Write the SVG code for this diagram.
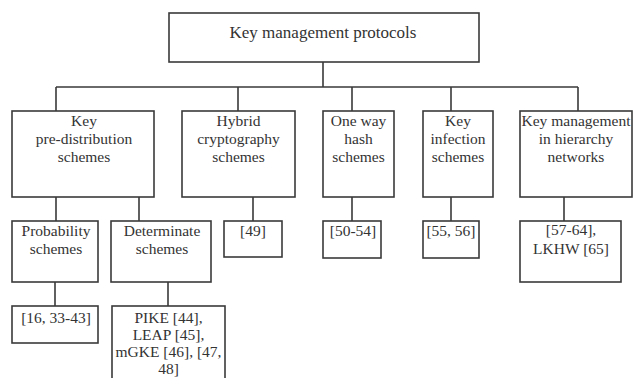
<svg xmlns="http://www.w3.org/2000/svg" width="634" height="378" viewBox="0 0 634 378">
<style>
.box{fill:#fff;stroke:#3a3a3a;stroke-width:1.6}
.ln{fill:none;stroke:#3a3a3a;stroke-width:1.6}
text{font-family:"Liberation Serif","Times New Roman",serif;font-size:15.5px;fill:#333;text-anchor:middle}
.big{font-size:17px}
</style>
<rect width="634" height="378" fill="#fff"/>
<g id="connectors">
<path class="ln" d="M323 62V87M56 87H578M56 87V111M238 87V111M352 87V111M451 87V111M578 87V111"/>
<path class="ln" d="M56 197V221M139 197V221M253 197V221M352 197V221M451 197V221M564 197V221"/>
<path class="ln" d="M55 282V306M168 282V306"/>
</g>
<g id="root"><rect class="box" x="169" y="13" width="310" height="49"/><text class="big" x="323" y="38">Key management protocols</text></g>
<g id="kpd"><rect class="box" x="12" y="111" width="142" height="86"/><text x="84" y="126">Key</text><text x="84" y="144">pre-distribution</text><text x="84" y="162">schemes</text></g>
<g id="hybrid"><rect class="box" x="182" y="111" width="113" height="86"/><text x="238.5" y="126">Hybrid</text><text x="238.5" y="144">cryptography</text><text x="238.5" y="162">schemes</text></g>
<g id="oneway"><rect class="box" x="323" y="111" width="71" height="86"/><text x="358.5" y="126">One way</text><text x="358.5" y="144">hash</text><text x="358.5" y="162">schemes</text></g>
<g id="infection"><rect class="box" x="423" y="111" width="70" height="86"/><text x="458" y="126">Key</text><text x="458" y="144">infection</text><text x="458" y="162">schemes</text></g>
<g id="hierarchy"><rect class="box" x="520" y="111" width="112" height="86"/><text x="576" y="126">Key management</text><text x="576" y="144">in hierarchy</text><text x="576" y="162">networks</text></g>
<g id="prob"><rect class="box" x="12" y="221" width="86" height="61"/><text x="56" y="236">Probability</text><text x="56" y="254">schemes</text></g>
<g id="det"><rect class="box" x="111" y="221" width="100" height="61"/><text x="162" y="236">Determinate</text><text x="162" y="254">schemes</text></g>
<g id="r49"><rect class="box" x="224" y="221" width="58" height="36"/><text x="253" y="236">[49]</text></g>
<g id="r50"><rect class="box" x="323" y="221" width="58" height="37"/><text x="353" y="236">[50-54]</text></g>
<g id="r55"><rect class="box" x="423" y="221" width="56" height="37"/><text x="451" y="236">[55, 56]</text></g>
<g id="r57"><rect class="box" x="520" y="221" width="101" height="61"/><text x="571" y="235">[57-64],</text><text x="571" y="254">LKHW [65]</text></g>
<g id="r16"><rect class="box" x="12" y="306" width="86" height="37"/><text x="56" y="323">[16, 33-43]</text></g>
<g id="pike"><rect class="box" x="112" y="306" width="113" height="80"/><text x="168.5" y="323">PIKE [44],</text><text x="168.5" y="340">LEAP [45],</text><text x="168.5" y="357">mGKE [46], [47,</text><text x="168.5" y="374">48]</text></g>
</svg>
